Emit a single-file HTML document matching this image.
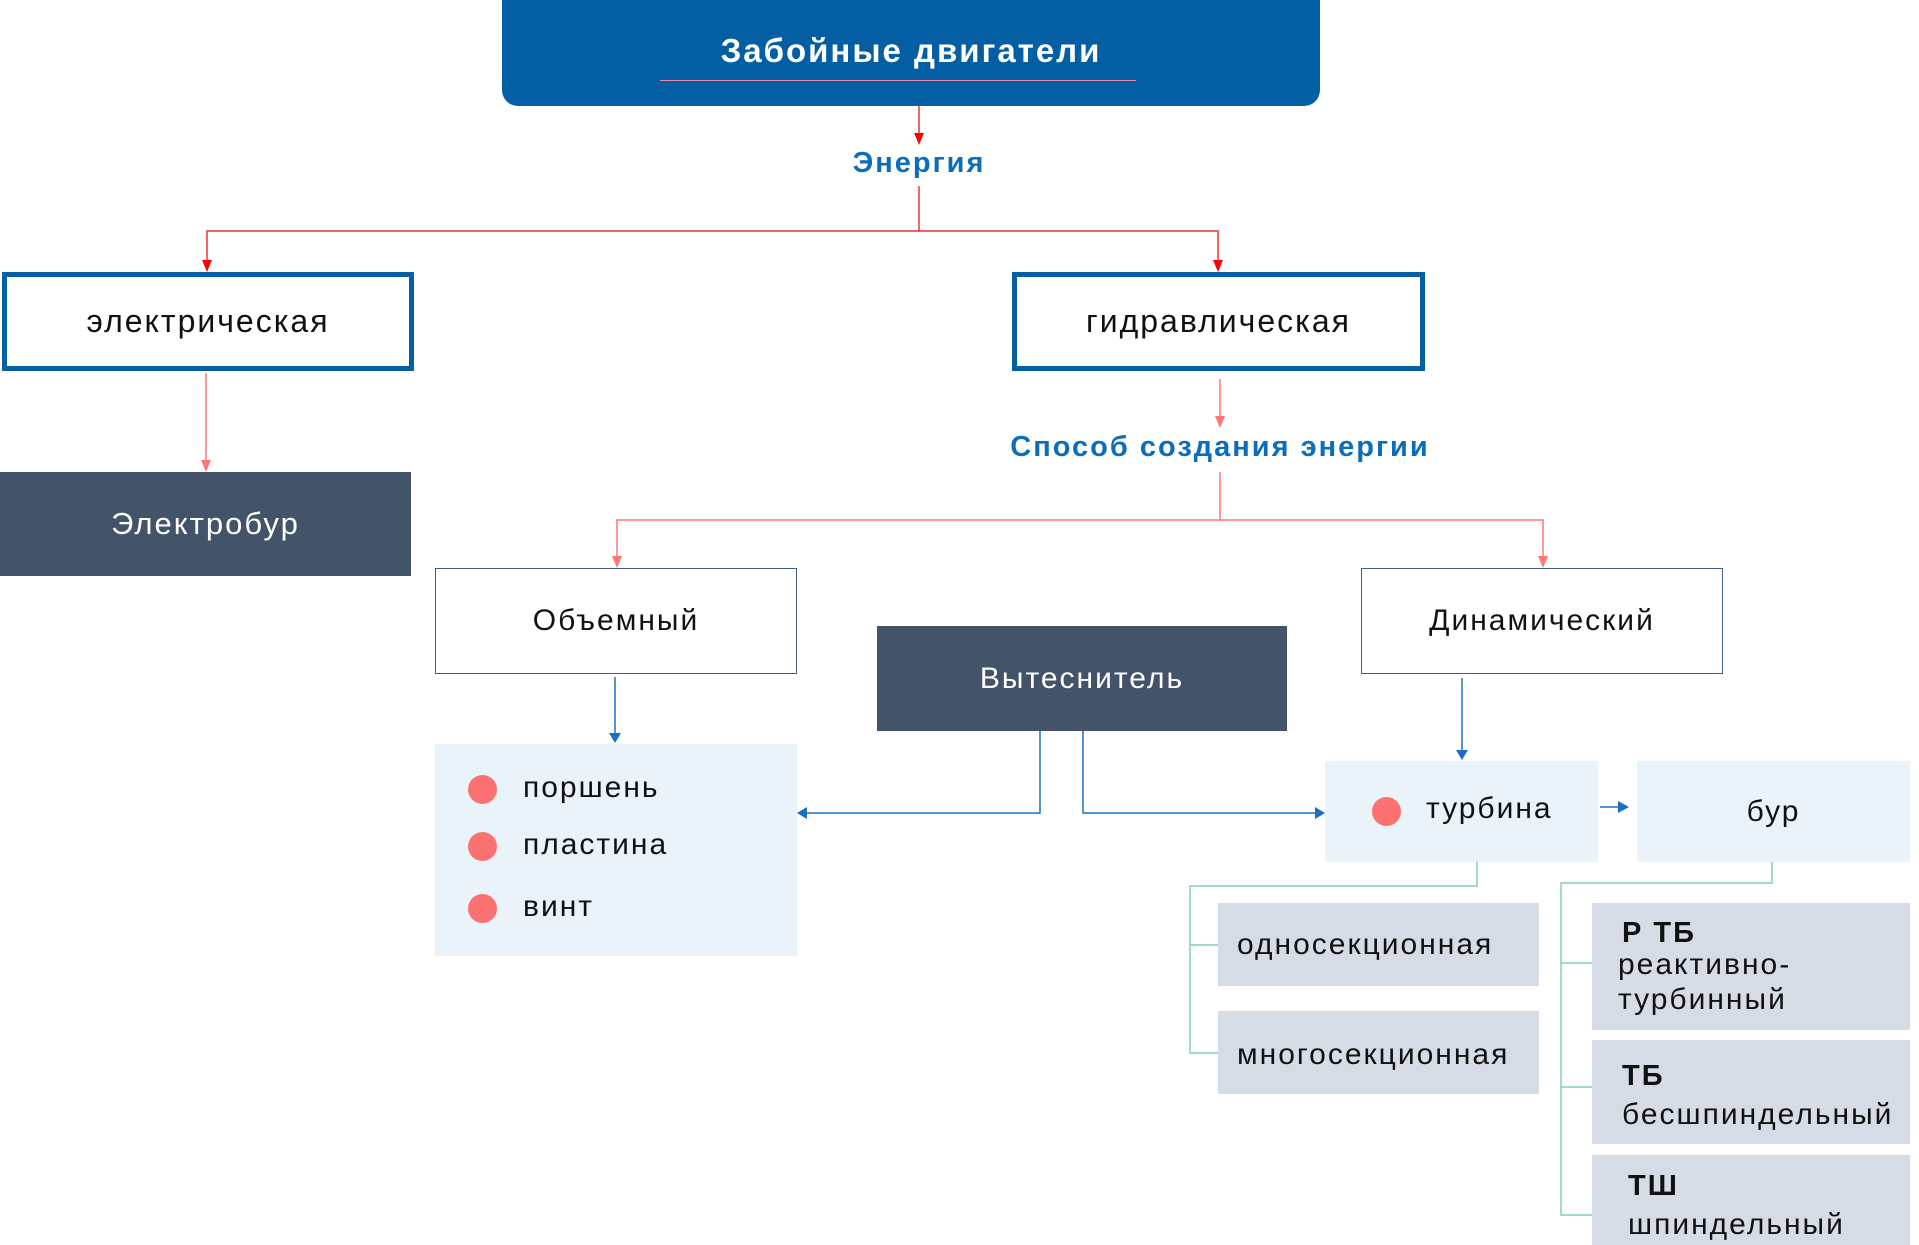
<!DOCTYPE html>
<html><head><meta charset="utf-8"><style>
*{margin:0;padding:0;box-sizing:border-box}
body{width:1919px;height:1242px;position:relative;background:#fff;overflow:hidden;font-family:"Liberation Sans","DejaVu Sans",sans-serif;color:#111;letter-spacing:2px}
.b{position:absolute;display:flex;align-items:center;justify-content:center}
.t{position:absolute;white-space:nowrap;line-height:1}
svg{position:absolute;left:0;top:0}
</style></head><body>
<svg width="1919" height="1242">
<g stroke="#e33" stroke-width="1.5" fill="none">
<line x1="919" y1="106" x2="919" y2="136"/>
<polyline points="919,186 919,231 207,231 207,262"/>
<polyline points="919,231 1218,231 1218,262"/>
</g>
<g fill="#f00">
<path d="M914,133 L924,133 L919,145z"/>
<path d="M202,260 L212,260 L207,272z"/>
<path d="M1213,260 L1223,260 L1218,272z"/>
</g>
<g stroke="#f77" stroke-width="1.5" fill="none">
<line x1="206" y1="373" x2="206" y2="462"/>
<line x1="1220" y1="379" x2="1220" y2="418"/>
<polyline points="1220,472 1220,520 617,520 617,558"/>
<polyline points="1220,520 1543,520 1543,558"/>
</g>
<g fill="#f77">
<path d="M201,460 L211,460 L206,472z"/>
<path d="M1215,416 L1225,416 L1220,428z"/>
<path d="M612,556 L622,556 L617,568z"/>
<path d="M1538,556 L1548,556 L1543,568z"/>
</g>
<g stroke="#1a70c0" stroke-width="1.5" fill="none">
<line x1="615" y1="677" x2="615" y2="733"/>
<polyline points="1040,731 1040,813 807,813"/>
<polyline points="1083,731 1083,813 1315,813"/>
<line x1="1462" y1="678" x2="1462" y2="752"/>
<line x1="1600" y1="807" x2="1620" y2="807"/>
</g>
<g fill="#1a70c0">
<path d="M609,733 L621,733 L615,743z"/>
<path d="M807,807 L807,819 L797,813z"/>
<path d="M1315,807 L1315,819 L1325,813z"/>
<path d="M1456,750 L1468,750 L1462,760z"/>
<path d="M1618,801 L1618,813 L1629,807z"/>
</g>
<g stroke="#80cfc0" stroke-width="1.5" fill="none">
<polyline points="1477,862 1477,886 1190,886 1190,1053 1218,1053"/>
<line x1="1190" y1="945" x2="1218" y2="945"/>
<polyline points="1772,862 1772,883 1561,883 1561,1215 1592,1215"/>
<line x1="1561" y1="963" x2="1592" y2="963"/>
<line x1="1561" y1="1087" x2="1592" y2="1087"/>
</g>
</svg>

<div class="b" style="left:502px;top:0;width:818px;height:106px;background:#045ea4;border-radius:0 0 16px 16px"></div>
<div class="t" style="left:502px;width:818px;top:34px;text-align:center;color:#fff;font-weight:bold;font-size:33px">Забойные двигатели</div>
<div style="position:absolute;left:660px;top:80px;width:476px;height:1px;background:#e88aa0"></div>

<div class="t" style="left:819px;width:200px;top:149px;text-align:center;color:#0a6ebd;font-weight:bold;font-size:29px">Энергия</div>

<div class="b" style="left:2px;top:272px;width:412px;height:99px;border:5px solid #065fa3;font-size:32px">электрическая</div>
<div class="b" style="left:1012px;top:272px;width:413px;height:99px;border:5px solid #065fa3;font-size:32px">гидравлическая</div>

<div class="b" style="left:0;top:472px;width:411px;height:104px;background:#435369;color:#fff;font-size:31px">Электробур</div>

<div class="t" style="left:920px;width:600px;top:433px;text-align:center;color:#0a6ebd;font-weight:bold;font-size:29px">Способ создания энергии</div>

<div class="b" style="left:435px;top:568px;width:362px;height:106px;border:1.5px solid #3e5f8a;font-size:30px">Объемный</div>
<div class="b" style="left:1361px;top:568px;width:362px;height:106px;border:1.5px solid #3e5f8a;font-size:30px">Динамический</div>
<div class="b" style="left:877px;top:626px;width:410px;height:105px;background:#435369;color:#fff;font-size:30px">Вытеснитель</div>

<div style="position:absolute;left:435px;top:744px;width:362px;height:212px;background:#eaf2fa"></div>
<div style="position:absolute;left:468px;top:775px;width:29px;height:29px;border-radius:50%;background:#fb7171"></div>
<div style="position:absolute;left:468px;top:832px;width:29px;height:29px;border-radius:50%;background:#fb7171"></div>
<div style="position:absolute;left:468px;top:894px;width:29px;height:29px;border-radius:50%;background:#fb7171"></div>
<div class="t" style="left:523px;top:773px;font-size:30px">поршень</div>
<div class="t" style="left:523px;top:830px;font-size:30px">пластина</div>
<div class="t" style="left:523px;top:892px;font-size:30px">винт</div>

<div style="position:absolute;left:1325px;top:761px;width:273px;height:101px;background:#eaf2fa"></div>
<div style="position:absolute;left:1372px;top:797px;width:29px;height:29px;border-radius:50%;background:#fb7171"></div>
<div class="t" style="left:1426px;top:794px;font-size:30px">турбина</div>
<div class="b" style="left:1637px;top:761px;width:273px;height:101px;background:#eaf2fa;font-size:30px">бур</div>

<div style="position:absolute;left:1218px;top:903px;width:321px;height:83px;background:#d6dce6"></div>
<div class="t" style="left:1237px;top:930px;font-size:30px">односекционная</div>
<div style="position:absolute;left:1218px;top:1011px;width:321px;height:83px;background:#d6dce6"></div>
<div class="t" style="left:1237px;top:1040px;font-size:30px">многосекционная</div>

<div style="position:absolute;left:1592px;top:903px;width:318px;height:127px;background:#d6dce6"></div>
<div class="t" style="left:1622px;top:919px;font-size:29px;font-weight:bold">Р ТБ</div>
<div class="t" style="left:1618px;top:950px;font-size:30px">реактивно-</div>
<div class="t" style="left:1618px;top:985px;font-size:30px">турбинный</div>
<div style="position:absolute;left:1592px;top:1040px;width:318px;height:104px;background:#d6dce6"></div>
<div class="t" style="left:1622px;top:1062px;font-size:29px;font-weight:bold">ТБ</div>
<div class="t" style="left:1622px;top:1100px;font-size:30px">бесшпиндельный</div>
<div style="position:absolute;left:1592px;top:1155px;width:318px;height:90px;background:#d6dce6"></div>
<div class="t" style="left:1628px;top:1172px;font-size:29px;font-weight:bold">ТШ</div>
<div class="t" style="left:1628px;top:1210px;font-size:30px">шпиндельный</div>
</body></html>
